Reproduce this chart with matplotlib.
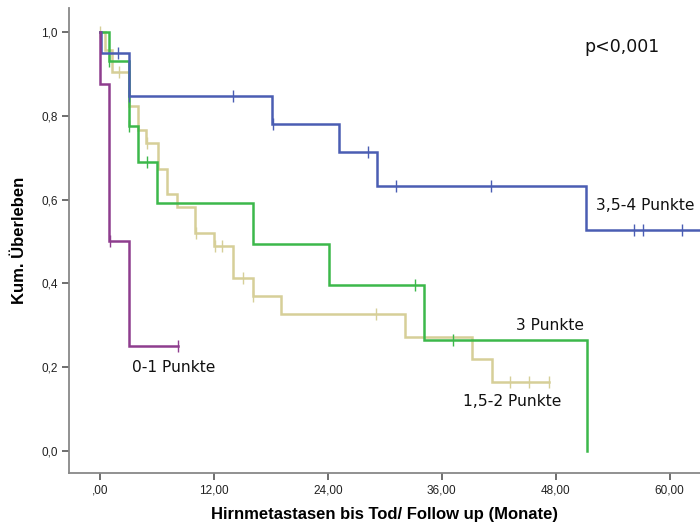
import numpy as np
import matplotlib
matplotlib.use("Agg")
import matplotlib.pyplot as plt

# ---- data ----
# 3,5-4 Punkte
t_blue = [0.0, 0.1, 3.05, 18.1, 25.2, 29.2, 51.2, 64.0]
s_blue = [1.0, 0.95, 0.847, 0.78, 0.713, 0.632, 0.527, 0.527]
c_blue = [1.9, 3.1, 14.0, 18.2, 28.2, 31.2, 41.2, 56.2, 57.2, 61.3]

# 3 Punkte
t_green = [0.0, 1.0, 3.05, 4.0, 6.0, 16.1, 24.1, 34.1, 51.3, 51.3]
s_green = [1.0, 0.93, 0.776, 0.69, 0.592, 0.494, 0.396, 0.265, 0.0, 0.0]
c_green = [1.0, 3.1, 5.0, 33.2, 37.2]

# 1,5-2 Punkte
t_tan = [0.0, 0.5, 1.3, 3.05, 4.0, 4.9, 6.1, 7.1, 8.1, 10.0, 12.05, 14.0, 16.1, 19.1, 32.1, 39.2, 41.3, 47.3]
s_tan = [1.0, 0.957, 0.905, 0.823, 0.765, 0.734, 0.673, 0.613, 0.583, 0.52, 0.488, 0.413, 0.37, 0.327, 0.271, 0.219, 0.165, 0.165]
c_tan = [0.0, 2.0, 4.95, 10.1, 12.1, 12.9, 15.1, 16.15, 29.1, 43.2, 45.2, 47.3]

# 0-1 Punkte
t_purple = [0.0, 0.05, 1.0, 3.05, 8.2]
s_purple = [1.0, 0.875, 0.5, 0.25, 0.25]
c_purple = [1.05, 8.2]

labels = ["3,5-4 Punkte", "3 Punkte", "1,5-2 Punkte", "0-1 Punkte"]
x_ticks = [0, 12, 24, 36, 48, 60]
x_ticklabels = [",00", "12,00", "24,00", "36,00", "48,00", "60,00"]
y_ticks = [0.0, 0.2, 0.4, 0.6, 0.8, 1.0]
y_ticklabels = ["0,0", "0,2", "0,4", "0,6", "0,8", "1,0"]

col_blue = "#4a5db3"
col_green = "#3cb84a"
col_tan = "#d6cf98"
col_purple = "#8e3d8e"

fig = plt.figure(figsize=(7.0, 5.28), dpi=100)
ax = fig.add_axes([69/700, 55/528, 1 - 69/700, (473-8)/528])

def surv_at(ts, ss, t):
    i = np.searchsorted(ts, t, side="right") - 1
    return ss[max(i, 0)]

series = [
    (t_tan, s_tan, c_tan, col_tan),
    (t_green, s_green, c_green, col_green),
    (t_blue, s_blue, c_blue, col_blue),
    (t_purple, s_purple, c_purple, col_purple),
]
for ts, ss, cs, col in series:
    ax.step(ts, ss, where="post", color=col, lw=1.8, solid_joinstyle="miter")
    cy = [surv_at(ts, ss, c) for c in cs]
    ax.plot(cs, cy, ls="none", marker="|", ms=8, mew=1.0, color=col)

ax.set_xlim(-3.26, 63.2)
ax.set_ylim(-0.0525, 1.057)
ax.set_xticks(x_ticks)
ax.set_xticklabels(x_ticklabels, family="Liberation Sans", fontsize=8.5, color="#222222")
ax.set_yticks(y_ticks)
ax.set_yticklabels(y_ticklabels, family="Liberation Sans", fontsize=8.5, color="#222222")
for s in ["top", "right"]:
    ax.spines[s].set_visible(False)
for s in ["left", "bottom"]:
    ax.spines[s].set_color("#888888")
    ax.spines[s].set_linewidth(1.3)
ax.tick_params(axis="both", length=5, width=1.2, color="#555555", pad=3)

ax.set_xlabel("Hirnmetastasen bis Tod/ Follow up (Monate)", family="Liberation Sans",
              fontweight="bold", fontsize=12, labelpad=8)
ax.set_ylabel("Kum. Überleben", family="Liberation Sans", fontweight="bold",
              fontsize=12, labelpad=10)

tf = dict(family="DejaVu Sans", fontsize=11.2, color="#111111")
ax.text(52.2, 0.585, labels[0], ha="left", va="center", **tf)
ax.text(43.8, 0.30, labels[1], ha="left", va="center", **tf)
ax.text(38.2, 0.118, labels[2], ha="left", va="center", **tf)
ax.text(3.35, 0.20, labels[3], ha="left", va="center", **tf)
ax.text(51.0, 0.965, "p<0,001", ha="left", va="center",
        family="DejaVu Sans", fontsize=12.5, color="#111111")

fig.savefig("out.png", dpi=100)
